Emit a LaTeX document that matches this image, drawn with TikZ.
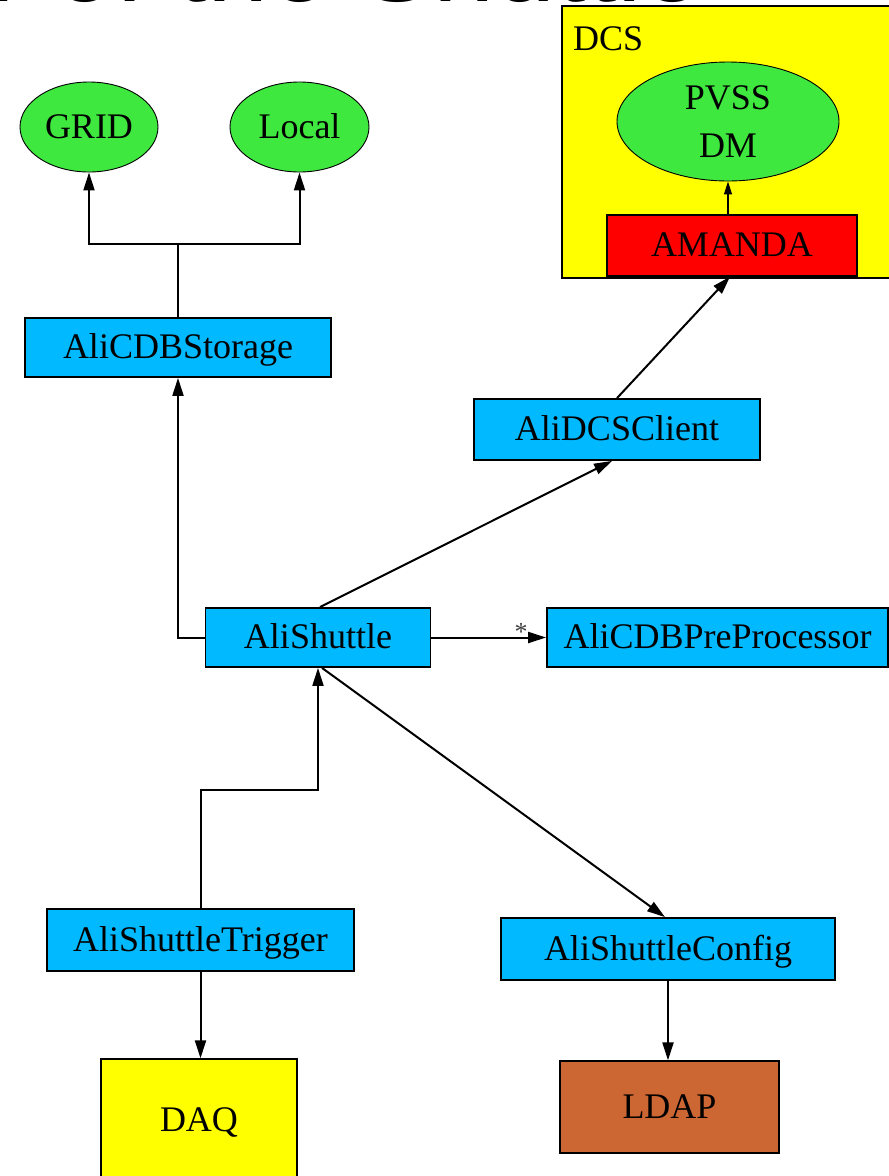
\documentclass[tikz,border=0pt]{standalone}
\usepackage{fontspec}
\setmainfont{Liberation Serif}
\newfontfamily\titlefont{Liberation Sans}
\usetikzlibrary{arrows.meta,shapes.geometric}
\definecolor{clsblue}{HTML}{00B9FF}
\definecolor{elgreen}{HTML}{3EE83E}
\definecolor{boxyellow}{HTML}{FFFF00}
\definecolor{boxred}{HTML}{FF0000}
\definecolor{boxbrown}{HTML}{CC6633}
\newcommand\nodefont{\fontsize{36}{48}\selectfont}
\tikzset{
  cls/.style={draw=black, line width=1.8pt, fill=clsblue, inner sep=0pt,
    text height=30pt, text depth=8pt, font=\nodefont},
  extbox/.style={draw=black, line width=1.3pt, inner sep=0pt,
    text height=30pt, text depth=8pt, font=\nodefont},
  store/.style={ellipse, draw=black, line width=0.9pt, fill=elgreen, inner sep=0pt,
    text height=30pt, text depth=8pt, font=\nodefont},
  arr/.style={draw=black, line width=2pt, -{Triangle[length=18pt,width=11pt]}},
}
\begin{document}
\begin{tikzpicture}[x=1pt,y=-1pt]
\useasboundingbox (0,0) rectangle (889,1176);
% clipped title
\node[anchor=base east, inner sep=0pt, font=\titlefont\fontsize{110}{120}\selectfont] (title) at (703,1) {Overview of the Shuttle};
% DCS box
\node[draw=black, line width=2pt, fill=boxyellow, anchor=north west, inner sep=0pt,
  minimum width=345pt, minimum height=272pt] (dcs) at (561,5) {};
\node[anchor=base west, inner sep=0pt, font=\nodefont] (dcslabel) at (573,50) {DCS};
\node[store, minimum width=222pt, minimum height=119pt, text height=, text depth=, align=center] (pvss) at (728,121.5) {PVSS\\DM};
\node[extbox, fill=boxred, minimum width=250pt, minimum height=61pt] (amanda) at (732,245.5) {AMANDA};
% storages
\node[store, minimum width=138pt, minimum height=90pt] (grid) at (89,127) {GRID};
\node[store, minimum width=139pt, minimum height=90pt] (local) at (299.5,127) {Local};
% classes
\node[cls, minimum width=306pt, minimum height=59pt] (stor) at (178,347.5) {AliCDBStorage};
\node[cls, minimum width=286pt, minimum height=61pt] (dcscl) at (617,429.5) {AliDCSClient};
\node[cls, minimum width=225pt, minimum height=59pt] (shut) at (318,637.5) {AliShuttle};
\node[cls, minimum width=341pt, minimum height=59pt] (prep) at (717.5,637.5) {AliCDBPreProcessor};
\node[cls, minimum width=307pt, minimum height=62pt] (trig) at (200.5,940) {AliShuttleTrigger};
\node[cls, minimum width=334pt, minimum height=62pt] (conf) at (668,949) {AliShuttleConfig};
% external systems
\node[extbox, fill=boxyellow, minimum width=196pt, minimum height=122pt] (daq) at (199,1120) {DAQ};
\node[extbox, fill=boxbrown, minimum width=219pt, minimum height=92pt] (ldap) at (669.5,1107) {LDAP};
% connectors
\draw[arr, line width=1.2pt, -{Triangle[length=13pt,width=8pt]}] (pvss.south |- amanda.north) -- (pvss.south);
\coordinate (jstor) at (178,244);
\draw[arr] (stor.north) -- (jstor) -| (grid.south);
\draw[arr] (jstor) -| (local.south);
\draw[arr] (shut.west) -| (stor.south);
\draw[arr] ([xshift=2pt]shut.north) -- ([xshift=-5pt]dcscl.south);
\draw[arr] (dcscl.north) -- ([xshift=-2pt]amanda.south);
\draw[arr] (shut.east) -- (prep.west);
\node[inner sep=0pt, text=black!75, font=\fontsize{26}{26}\selectfont] (star) at (521,632) {*};
\coordinate (jtrig) at (200.5,790);
\draw[arr] (trig.north) -- (jtrig) -| (shut.south);
\draw[arr] ([xshift=4pt]shut.south) -- ([xshift=-3pt]conf.north);
\draw[arr] (trig.south) -- (trig.south |- daq.north);
\draw[arr] (conf.south) -- (conf.south |- ldap.north);
\end{tikzpicture}
\end{document}
